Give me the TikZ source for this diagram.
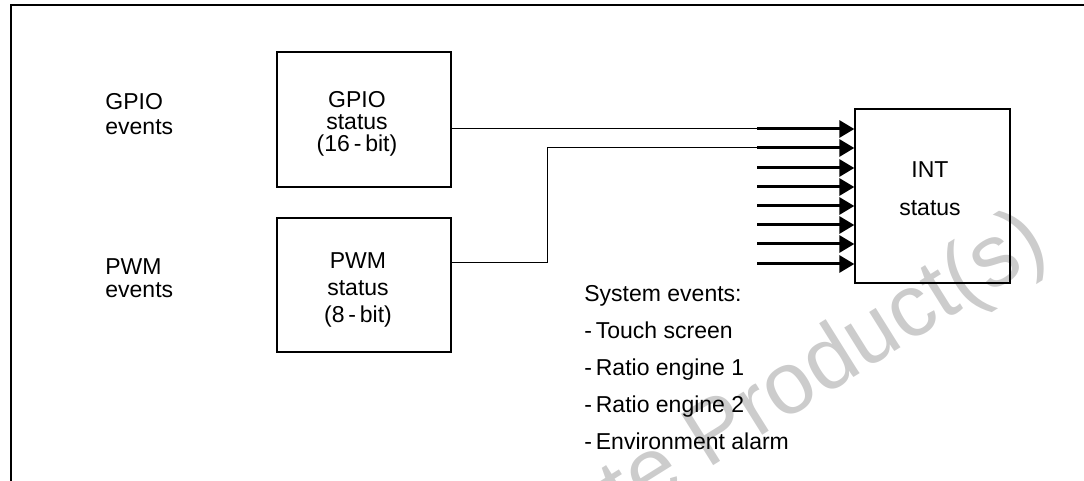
\documentclass[tikz,border=0pt]{standalone}
\usepackage{fontspec}
\setmainfont{Liberation Sans}
\usetikzlibrary{arrows.meta}
\begin{document}
\begin{tikzpicture}[x=0.5pt,y=-0.5pt,
  box/.style={draw, line width=0.65pt, inner sep=0pt, minimum width=87pt},
  txt/.style={inner sep=0pt, align=center},
  ltxt/.style={inner sep=0pt, align=left},
  wire/.style={line width=0.5pt},
  bus/.style={line width=1.5pt, -{Triangle[length=7.5pt,width=8.5pt]}},
  frame/.style={line width=1pt},
  wmark/.style={inner sep=0pt, text=black!20, font=\fontsize{44}{44}\selectfont}
]
\useasboundingbox (0,0) rectangle (1084,481);
\clip (0,0) rectangle (1084,481);

% watermark
\node[wmark, rotate=32, anchor=base east] (wm) at (1052,254) {Obsolete Product(s)};

% frame
\draw[frame] (10.5,490) -- (10.5,5) -- (1090,5);

% boxes
\node[box, minimum height=67.5pt] (gpio) at (364,119.5) {};
\node[box, minimum height=67pt] (pwm) at (364,285) {};
\node[box, minimum width=77.5pt, minimum height=87pt] (int) at (932.5,196) {};

% box texts
\node[txt, font=\fontsize{11.5}{11}\selectfont] (gpiotxt) at (357,124) {GPIO\\status\\(16\,-\,bit)};
\node[txt, font=\fontsize{11.5}{13.5}\selectfont] (pwmtxt) at (358,290) {PWM\\status\\(8\,-\,bit)};
\node[txt, font=\fontsize{11.5}{19}\selectfont] (inttxt) at (930,189) {INT\\status};

% side labels
\node[ltxt, anchor=west, font=\fontsize{11.5}{12.5}\selectfont] (gpioev) at (105,114.5) {GPIO\\events};
\node[ltxt, anchor=west, font=\fontsize{11.5}{11.5}\selectfont] (pwmev) at (105,278) {PWM\\events};

% system events
\node[ltxt, anchor=north west, font=\fontsize{11.5}{18.5}\selectfont] (sysev) at (584,285)
  {System events:\\-\,Touch screen\\-\,Ratio engine 1\\-\,Ratio engine 2\\-\,Environment alarm};

% bus inputs
\foreach \i/\yy in {1/129,2/148,3/168,4/187,5/206,6/225,7/244,8/264}{
  \coordinate (s\i) at (757,\yy);
  \draw[bus] (s\i) -- (s\i -| int.west);
}

% wires
\coordinate (bend) at (547,263);
\draw[wire] (gpio.east |- s1) -- (s1);
\draw[wire] (pwm.east |- bend) -- (bend) |- (s2);
\end{tikzpicture}
\end{document}
